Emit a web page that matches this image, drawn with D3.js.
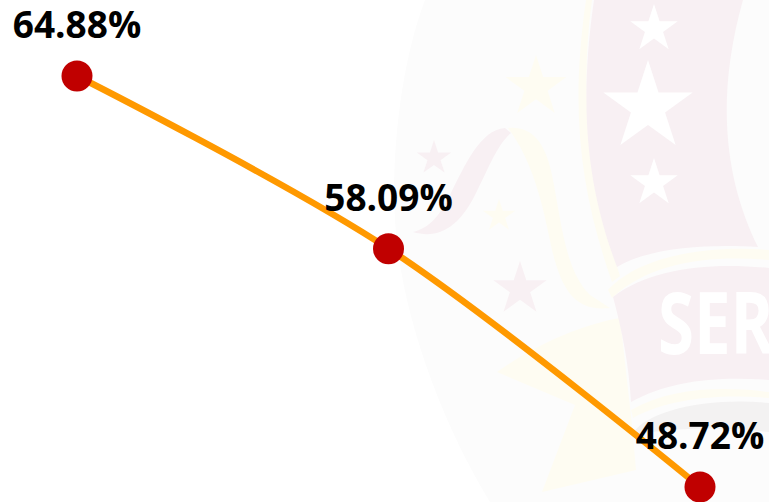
<!DOCTYPE html>
<html>
<head>
<meta charset="utf-8">
<script src="https://cdn.jsdelivr.net/npm/d3@7"></script>
<style>
  html, body { margin: 0; padding: 0; background: #fff; }
  svg { display: block; }
  .label { font-family: "Open Sans", sans-serif; font-weight: 700; font-size: 37px; text-anchor: middle; fill: #000; }
</style>
</head>
<body>
<div id="svg-container"></div>
<script>
// categories have no visible labels in the picture, so just the three steps
const categories = ["1", "2", "3"];
const values = [64.88, 58.09, 48.72];

const width = 769;
const height = 502;

const svg = d3.select("#svg-container").append("svg")
  .attr("width", width)
  .attr("height", height);

////////////////////////////////  Watermark  ////////////////////////////////
const pink = "#f8f0f3";
const cream = "#fefcf2";
const wm = svg.append("g").attr("class", "watermark");

wm.append("path").attr("fill", "#fcfcfc")
  .attr("d", "M425,0 C402,60 391,150 395,220 C400,310 440,420 490,502 L769,502 L769,0 Z");

// ribbons
wm.append("path").attr("fill", cream)
  .attr("d", "M508,128 C530,126 545,140 552,175 C562,225 565,270 590,295 L610,308 C575,312 562,290 552,250 C542,200 532,160 508,128 Z");
wm.append("path").attr("fill", pink)
  .attr("d", "M505,128 C480,130 465,165 450,195 C440,215 430,228 413,232 C440,240 460,225 475,195 C490,165 497,145 511,133 Z");

// yellow star behind the banner
wm.append("path").attr("fill", cream)
  .attr("d", "M497,372 C535,345 580,325 620,318 L632,425 L636,470 L542,492 L575,405 Z");

// shield
wm.append("path").attr("fill", cream)
  .attr("d", "M586,0 C570,110 580,190 612,282 L620,276 C592,190 578,100 592,0 Z");
wm.append("path").attr("fill", pink)
  .attr("d", "M594,0 C578,110 588,190 617,267 C650,247 710,244 758,247 C730,190 712,110 743,0 Z");

// banner
wm.append("path").attr("fill", cream)
  .attr("d", "M608,290 C640,255 710,245 769,250 L769,260 C710,255 650,262 612,298 Z");
wm.append("path").attr("fill", pink)
  .attr("d", "M613,297 C650,268 710,262 769,268 L769,380 C720,376 670,380 631,402 C629,365 622,330 613,297 Z");
wm.append("path").attr("fill", cream)
  .attr("d", "M631,410 C670,388 720,386 769,392 L769,398 C720,394 670,398 633,418 Z");
wm.append("path").attr("fill", "#f3f2f2")
  .attr("d", "M632,435 C645,410 710,397 769,403 L769,432 C720,426 670,428 632,435 Z");
wm.append("text")
  .attr("transform", "translate(658,354) scale(0.76,1)")
  .attr("font-family", "Open Sans, sans-serif").attr("font-weight", 700)
  .attr("font-size", 86).attr("fill", "#fff")
  .text("SER");

// stars
const star = d3.symbol().type(d3.symbolStar);
const stars = [
  { x: 654, y: 29, r: 25, fill: "#fff" },
  { x: 648, y: 107, r: 47, fill: "#fff" },
  { x: 654, y: 183, r: 25, fill: "#fff" },
  { x: 434, y: 158, r: 18, fill: pink },
  { x: 520, y: 289, r: 28, fill: pink },
  { x: 536, y: 87, r: 32, fill: cream },
  { x: 499, y: 216, r: 17, fill: cream },
];
wm.selectAll(".star").data(stars).join("path")
  .attr("class", "star")
  .attr("fill", (d) => d.fill)
  .attr("transform", (d) => `translate(${d.x},${d.y})`)
  .attr("d", (d) => star.size((d.r * d.r) / 0.8908)());

////////////////////////////////  Chart  ////////////////////////////////
// scale
const xScale = d3.scalePoint().domain(categories).range([77, 700]);
const yScale = d3.scaleLinear().domain([64.88, 48.72]).range([76, 487]);

// line
const line = d3
  .line()
  .curve(d3.curveCatmullRom)
  .x((d, i) => xScale(categories[i]))
  .y((d) => yScale(d));

svg.append("path")
  .datum(values)
  .attr("fill", "none")
  .attr("stroke", "#ff9900")
  .attr("stroke-width", 6.5)
  .attr("d", line);

svg.selectAll("circle").data(values).join("circle")
  .attr("cx", (d, i) => xScale(categories[i]))
  .attr("cy", (d) => yScale(d))
  .attr("r", 15.5)
  .attr("fill", "#c00000");

svg.selectAll(".label").data(values).join("text")
  .attr("class", "label")
  .attr("x", (d, i) => xScale(categories[i]))
  .attr("y", (d) => yScale(d) - 38)
  .text((d) => d.toFixed(2) + "%");
</script>
</body>
</html>
